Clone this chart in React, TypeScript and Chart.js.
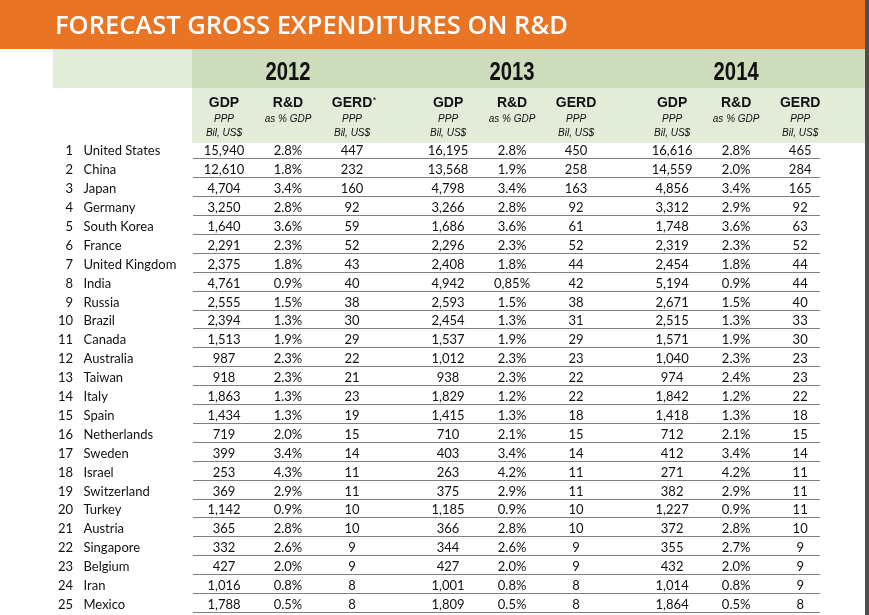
import React, { useEffect, useRef } from "react";
import { Chart, registerables } from "chart.js";

Chart.register(...registerables);

const title = "FORECAST GROSS EXPENDITURES ON R&D";
const years = ["2012", "2013", "2014"];
const metricNames = ["GDP", "R&D", "GERD"];
const metricSub1 = ["PPP", "as % GDP", "PPP"];
const metricSub2 = ["Bil, US$", "", "Bil, US$"];

const countries = [
  "United States", "China", "Japan", "Germany", "South Korea", "France",
  "United Kingdom", "India", "Russia", "Brazil", "Canada", "Australia",
  "Taiwan", "Italy", "Spain", "Netherlands", "Sweden", "Israel",
  "Switzerland", "Turkey", "Austria", "Singapore", "Belgium", "Iran", "Mexico",
];

const gdp2012 = [15940, 12610, 4704, 3250, 1640, 2291, 2375, 4761, 2555, 2394, 1513, 987, 918, 1863, 1434, 719, 399, 253, 369, 1142, 365, 332, 427, 1016, 1788];
const rd2012 = [2.8, 1.8, 3.4, 2.8, 3.6, 2.3, 1.8, 0.9, 1.5, 1.3, 1.9, 2.3, 2.3, 1.3, 1.3, 2.0, 3.4, 4.3, 2.9, 0.9, 2.8, 2.6, 2.0, 0.8, 0.5];
const gerd2012 = [447, 232, 160, 92, 59, 52, 43, 40, 38, 30, 29, 22, 21, 23, 19, 15, 14, 11, 11, 10, 10, 9, 9, 8, 8];

const gdp2013 = [16195, 13568, 4798, 3266, 1686, 2296, 2408, 4942, 2593, 2454, 1537, 1012, 938, 1829, 1415, 710, 403, 263, 375, 1185, 366, 344, 427, 1001, 1809];
const rd2013 = [2.8, 1.9, 3.4, 2.8, 3.6, 2.3, 1.8, 0.85, 1.5, 1.3, 1.9, 2.3, 2.3, 1.2, 1.3, 2.1, 3.4, 4.2, 2.9, 0.9, 2.8, 2.6, 2.0, 0.8, 0.5];
const gerd2013 = [450, 258, 163, 92, 61, 52, 44, 42, 38, 31, 29, 23, 22, 22, 18, 15, 14, 11, 11, 10, 10, 9, 9, 8, 8];

const gdp2014 = [16616, 14559, 4856, 3312, 1748, 2319, 2454, 5194, 2671, 2515, 1571, 1040, 974, 1842, 1418, 712, 412, 271, 382, 1227, 372, 355, 432, 1014, 1864];
const rd2014 = [2.8, 2.0, 3.4, 2.9, 3.6, 2.3, 1.8, 0.9, 1.5, 1.3, 1.9, 2.3, 2.4, 1.2, 1.3, 2.1, 3.4, 4.2, 2.9, 0.9, 2.8, 2.7, 2.0, 0.8, 0.5];
const gerd2014 = [465, 284, 165, 92, 63, 52, 44, 44, 40, 33, 30, 23, 23, 22, 18, 15, 14, 11, 11, 11, 10, 9, 9, 9, 8];

const seriesByYear = [
  [gdp2012, rd2012, gerd2012],
  [gdp2013, rd2013, gerd2013],
  [gdp2014, rd2014, gerd2014],
];

const ORANGE = "#E87424";
const GREEN_DARK = "#CDDCBA";
const GREEN_LIGHT = "#E3EBD9";
const LINE = "#808080";
const TEXT = "#111111";
const BODY_FONT = "Lato, 'Noto Sans', sans-serif";
const HEAD_FONT = "'Liberation Sans', Arial, sans-serif";
const GROUP_STEP = 3.5;

function fmtValue(metric: number, v: number): string {
  if (metric === 1) {
    if (Math.abs(v * 10 - Math.round(v * 10)) > 1e-6) {
      return v.toFixed(2).replace(".", ",") + "%";
    }
    return v.toFixed(1) + "%";
  }
  return v.toLocaleString("en-US");
}

const tablePlugin = {
  id: "tablePlugin",
  beforeDraw(chart: any) {
    const { ctx, width, height } = chart;
    const x = chart.scales.x;
    ctx.save();
    ctx.fillStyle = "#ffffff";
    ctx.fillRect(0, 0, width, height);
    ctx.fillStyle = ORANGE;
    ctx.fillRect(0, 0, width - 4, 49);
    ctx.fillStyle = "#4d4d4d";
    ctx.fillRect(width - 4, 0, 4, height);
    const left = x.getPixelForValue(-0.5);
    ctx.fillStyle = GREEN_LIGHT;
    ctx.fillRect(53, 49, left - 53, 39);
    ctx.fillStyle = GREEN_DARK;
    ctx.fillRect(left, 49, width - 4 - left, 39);
    ctx.fillStyle = GREEN_LIGHT;
    ctx.fillRect(left, 88, width - 4 - left, 55);
    // title, sized to the reference width
    ctx.fillStyle = "#ffffff";
    ctx.font = "600 23px 'Open Sans', sans-serif";
    const w0 = ctx.measureText(title).width;
    const size = (23 * 513) / w0;
    ctx.font = "600 " + size.toFixed(2) + "px 'Open Sans', sans-serif";
    ctx.textBaseline = "alphabetic";
    ctx.textAlign = "left";
    ctx.fillText(title, 55, 34);
    ctx.restore();
  },
  afterDatasetsDraw(chart: any) {
    const { ctx, chartArea } = chart;
    const x = chart.scales.x;
    const y = chart.scales.y;
    ctx.save();
    ctx.strokeStyle = LINE;
    ctx.lineWidth = 1;
    for (let i = 0; i < countries.length; i++) {
      const py = Math.round(y.getPixelForValue(i + 0.5)) - 0.5;
      ctx.beginPath();
      ctx.moveTo(chartArea.left, py);
      ctx.lineTo(chartArea.right, py);
      ctx.stroke();
    }
    ctx.fillStyle = TEXT;
    ctx.textAlign = "center";
    ctx.textBaseline = "alphabetic";
    years.forEach((yr, g) => {
      // condensed bold year label
      ctx.save();
      ctx.font = "bold 25px " + HEAD_FONT;
      ctx.translate(x.getPixelForValue(g * GROUP_STEP + 1), 80);
      ctx.scale(0.81, 1);
      ctx.fillText(yr, 0, 0);
      ctx.restore();
      metricNames.forEach((m, c) => {
        const px = x.getPixelForValue(g * GROUP_STEP + c);
        ctx.font = "bold 14px " + HEAD_FONT;
        ctx.textAlign = "center";
        ctx.fillText(m, px, 107);
        if (g === 0 && c === 2) {
          const w = ctx.measureText(m).width;
          ctx.font = "9px " + HEAD_FONT;
          ctx.textAlign = "left";
          ctx.fillText("*", px + w / 2 + 0.5, 103);
          ctx.textAlign = "center";
        }
        ctx.font = "italic 10px " + HEAD_FONT;
        ctx.fillText(metricSub1[c], px, 122);
        if (metricSub2[c]) ctx.fillText(metricSub2[c], px, 136);
      });
    });
    ctx.font = "13px " + BODY_FONT;
    chart.data.datasets.forEach((ds: any, di: number) => {
      const meta = chart.getDatasetMeta(di);
      meta.data.forEach((pt: any, i: number) => {
        ctx.textAlign = "center";
        ctx.fillText(fmtValue(ds.metric, ds.values[i]), pt.x, pt.y + 5.5);
      });
    });
    countries.forEach((name, i) => {
      const py = y.getPixelForValue(i) + 5.5;
      ctx.textAlign = "right";
      ctx.fillText(String(i + 1), 73, py);
      ctx.textAlign = "left";
      ctx.fillText(name, 83.5, py);
    });
    ctx.restore();
  },
};

export default function App() {
  const ref = useRef<HTMLCanvasElement | null>(null);
  useEffect(() => {
    document.body.style.margin = "0";
    const datasets: any[] = [];
    seriesByYear.forEach((group, g) => {
      group.forEach((values, c) => {
        datasets.push({
          label: years[g] + " " + metricNames[c],
          metric: c,
          values,
          data: values.map((_, i) => ({ x: g * GROUP_STEP + c, y: i })),
          pointRadius: 0,
          pointHoverRadius: 0,
          showLine: false,
        });
      });
    });
    const chart = new Chart(ref.current as HTMLCanvasElement, {
      type: "scatter",
      data: { datasets },
      options: {
        animation: false,
        responsive: false,
        devicePixelRatio: 1,
        events: [],
        layout: { padding: { left: 193, right: 49, top: 140.4, bottom: 2.1 } },
        plugins: { legend: { display: false }, tooltip: { enabled: false } },
        scales: {
          x: { type: "linear", min: -0.484, max: 9.31, display: false },
          y: { type: "linear", min: -0.5, max: 24.5, reverse: true, display: false },
        },
      },
      plugins: [tablePlugin],
    } as any);
    return () => chart.destroy();
  }, []);
  return <canvas ref={ref} width={869} height={615} style={{ display: "block" }} />;
}
